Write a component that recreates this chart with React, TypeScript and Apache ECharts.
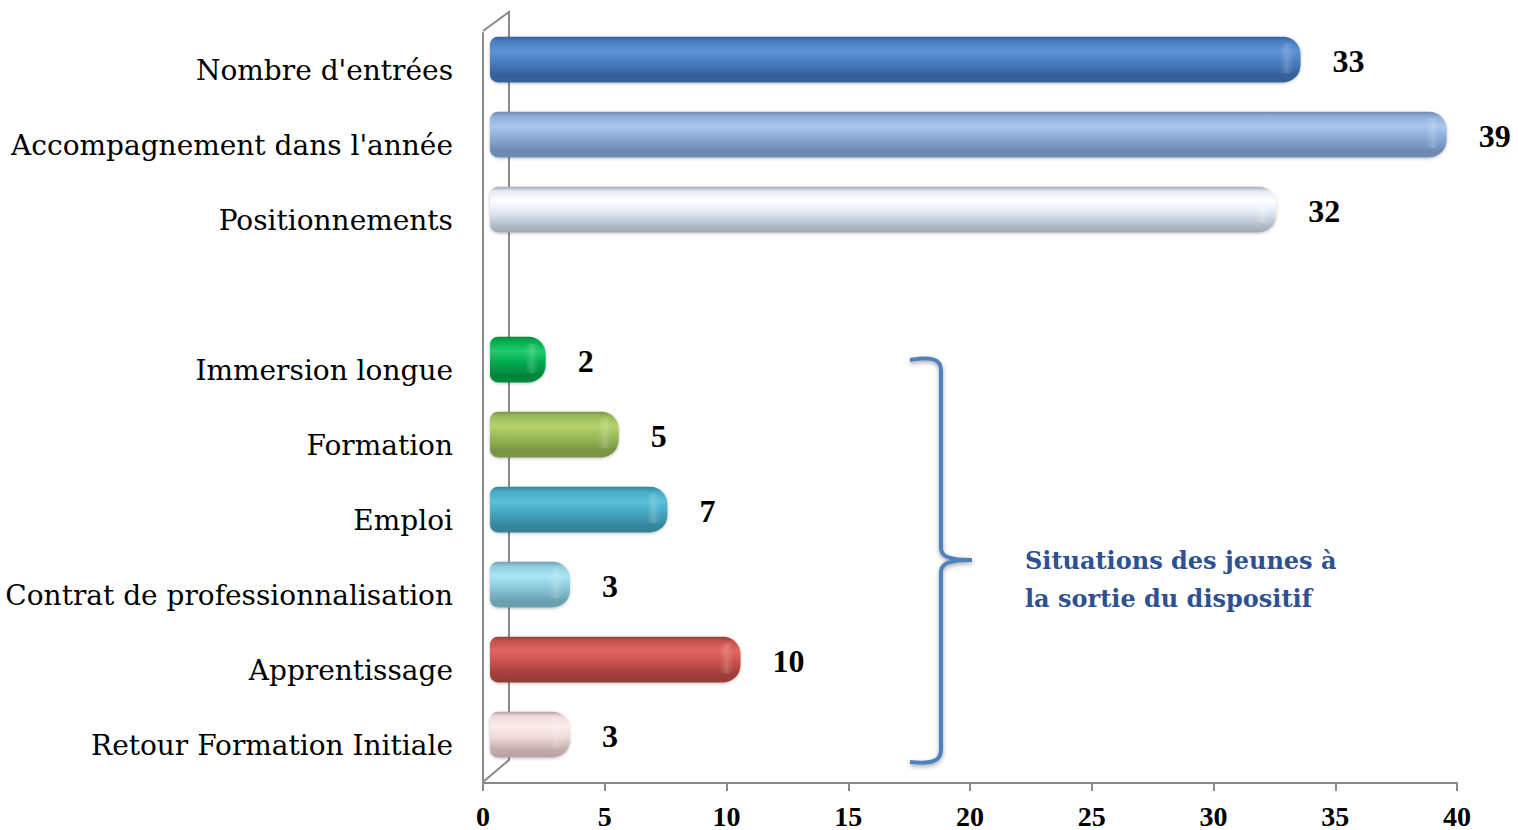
import React, { useEffect, useRef } from "react";
import * as echarts from "echarts";

const categories = [
  "Nombre d'entrées",
  "Accompagnement dans l'année",
  "Positionnements",
  "",
  "Immersion longue",
  "Formation",
  "Emploi",
  "Contrat de professionnalisation",
  "Apprentissage",
  "Retour Formation Initiale",
];
const values: (number | null)[] = [33, 39, 32, null, 2, 5, 7, 3, 10, 3];
const xTicks = { min: 0, max: 40, interval: 5 };

// [edge, highlight, mid, bottom]
const palette: string[][] = [
  ["#35609A", "#5E93D8", "#4A7DBF", "#34609A"],
  ["#6F8AB0", "#A9C6EE", "#8EADD8", "#6C8AB4"],
  ["#9EA8B6", "#FFFFFF", "#E4EBF4", "#B2BCC9"],
  ["#000000", "#000000", "#000000", "#000000"],
  ["#008A3D", "#22CB6C", "#00AD4F", "#00843D"],
  ["#7A9545", "#B5D26C", "#9BBB59", "#7A9544"],
  ["#33829A", "#5BC0DA", "#47A8C3", "#36879D"],
  ["#6AA0B0", "#AAE5F4", "#8FCCDC", "#6BA2B2"],
  ["#963B38", "#E06663", "#C9514D", "#9D3D3A"],
  ["#B8A1A0", "#FCEDEC", "#F0DADA", "#C1AAA9"],
];

const BRACE =
  "M0,2 C20,-1 31,0 31,12 L31,190 C31,199 40,202 62,202 M62,202 C40,202 31,205 31,214 L31,392 C31,404 20,406 0,404";

echarts.graphic.registerShape("brace", echarts.graphic.extendPath(BRACE, {}) as any);

export default function App() {
  const ref = useRef<HTMLDivElement>(null);
  useEffect(() => {
    if (!ref.current) return;
    const chart = echarts.init(ref.current, undefined, { renderer: "svg" });
    const axisColor = "#8A8A8A";
    const data = values.map((v, i) => [v == null ? 0 : v, i, v == null ? 0 : 1]);
    chart.setOption({
      animation: false,
      backgroundColor: "#ffffff",
      grid: [
        { left: 483, top: 33, width: 974, height: 750 },
        { left: 497, top: 22, width: 974, height: 750 },
      ],
      xAxis: [
        {
          gridIndex: 0,
          type: "value",
          min: xTicks.min,
          max: xTicks.max,
          interval: xTicks.interval,
          axisLine: { show: true, lineStyle: { color: axisColor, width: 2 } },
          axisTick: { show: true, length: 8, lineStyle: { color: axisColor, width: 2 } },
          splitLine: { show: false },
          axisLabel: {
            margin: 19,
            color: "#000",
            fontFamily: "Liberation Serif",
            fontWeight: "bold",
            fontSize: 28,
          },
        },
        {
          gridIndex: 1,
          type: "value",
          min: xTicks.min,
          max: xTicks.max,
          show: false,
        },
      ],
      yAxis: [
        {
          gridIndex: 0,
          type: "category",
          inverse: true,
          data: categories,
          axisLine: { show: true, lineStyle: { color: axisColor, width: 2 } },
          axisTick: { show: false },
          axisLabel: {
            margin: 30,
            color: "#000",
            fontFamily: "DejaVu Serif",
            fontSize: 28,
          },
        },
        {
          gridIndex: 1,
          type: "category",
          inverse: true,
          data: categories,
          show: false,
        },
      ],
      graphic: [
        {
          type: "polyline",
          z: 0,
          silent: true,
          shape: { points: [[483, 31], [509, 12], [509, 760], [483, 782]] },
          style: { stroke: axisColor, lineWidth: 2, fill: null },
        },
        {
          type: "brace",
          x: 910,
          y: 358,
          z: 5,
          style: {
            stroke: "#4F81BD",
            lineWidth: 4,
            fill: null,
            shadowBlur: 4,
            shadowColor: "rgba(0,0,0,0.35)",
            shadowOffsetY: 2,
          },
        },
        {
          type: "text",
          x: 1025,
          y: 560,
          z: 5,
          style: {
            text: "Situations des jeunes à",
            fill: "#2E5191",
            font: 'bold 24px "DejaVu Serif"',
            verticalAlign: "middle",
          },
        },
        {
          type: "text",
          x: 1025,
          y: 598,
          z: 5,
          style: {
            text: "la sortie du dispositif",
            fill: "#2E5191",
            font: 'bold 24px "DejaVu Serif"',
            verticalAlign: "middle",
          },
        },
      ],
      series: [
        {
          type: "custom",
          xAxisIndex: 1,
          yAxisIndex: 1,
          z: 3,
          encode: { x: 0, y: 1 },
          data,
          renderItem: (params: any, api: any) => {
            if (api.value(2) === 0) return null;
            const idx = params.dataIndex;
            const v = api.value(0);
            const p0 = api.coord([0, api.value(1)]);
            const p1 = api.coord([v, api.value(1)]);
            const h = api.size([0, 1])[1] * 0.61;
            const c = palette[idx];
            const x = p0[0] - 7;
            const w = p1[0] - x;
            const y = p0[1] - h / 2;
            const grad = new echarts.graphic.LinearGradient(0, 0, 0, 1, [
              { offset: 0, color: c[0] },
              { offset: 0.1, color: c[2] },
              { offset: 0.32, color: c[1] },
              { offset: 0.55, color: c[2] },
              { offset: 0.85, color: c[3] },
              { offset: 1, color: c[0] },
            ]);
            const capGrad = new echarts.graphic.LinearGradient(0, 0, 1, 0, [
              { offset: 0, color: "rgba(255,255,255,0)" },
              { offset: 0.5, color: "rgba(255,255,255,0.18)" },
              { offset: 1, color: "rgba(255,255,255,0)" },
            ]);
            const rr = h * 0.38;
            return {
              type: "group",
              children: [
                {
                  type: "rect",
                  shape: { x, y, width: w, height: h, r: [8, rr, rr, 8] },
                  style: {
                    fill: grad,
                    shadowBlur: 3,
                    shadowColor: "rgba(0,0,0,0.25)",
                    shadowOffsetY: 1,
                  },
                },
                {
                  type: "rect",
                  shape: { x: p1[0] - rr * 1.2, y: y + h * 0.15, width: rr * 0.8, height: h * 0.65, r: 5 },
                  style: { fill: capGrad },
                },
                {
                  type: "text",
                  style: {
                    text: String(v),
                    x: p1[0] + 32,
                    y: p0[1] + 1,
                    verticalAlign: "middle",
                    align: "left",
                    fill: "#000",
                    font: 'bold 32px "Liberation Serif"',
                  },
                },
              ],
            };
          },
        },
      ],
    });
    return () => chart.dispose();
  }, []);
  return (
    <div
      ref={ref}
      style={{ position: "fixed", left: 0, top: 0, width: 1518, height: 830, background: "#fff" }}
    />
  );
}
